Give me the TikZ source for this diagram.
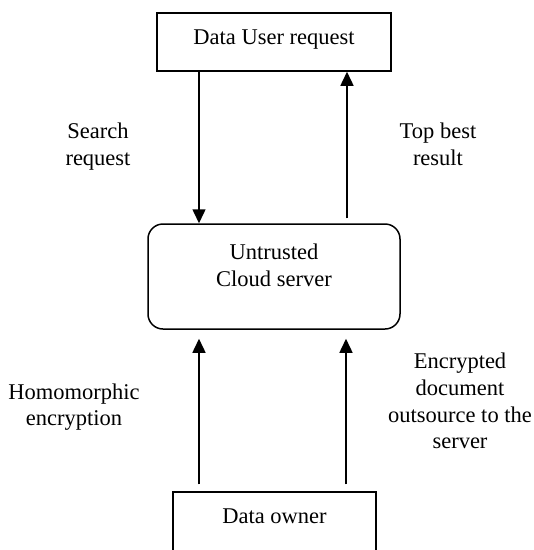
\documentclass[tikz,border=0pt]{standalone}
\usepackage{fontspec}
\setmainfont{Liberation Serif}
\usetikzlibrary{arrows.meta,calc}

\tikzset{
  box/.style={draw, line width=1.5pt, inner sep=0pt},
  txt/.style={inner sep=0pt, anchor=base, font=\fontsize{22.5}{26}\selectfont, align=center},
  arr/.style={line width=1.5pt, -{Triangle[width=13pt,length=14pt]}},
  plain/.style={line width=1.5pt}
}

\begin{document}
\begin{tikzpicture}[x=1pt,y=-1pt]
  \useasboundingbox (0,0) rectangle (534,550);

  % boxes
  \node[box, minimum width=234pt, minimum height=58pt] (user) at (274,42) {};
  \node[box, rounded corners=15pt, minimum width=252pt, minimum height=105pt] (cloud) at (274,276.5) {};
  \node[box, minimum width=203pt, minimum height=62pt] (owner) at (274.5,523) {};

  % box texts
  \node[txt] (usertxt) at (274,44) {Data User request};
  \node[txt] (cloudtxt1) at (274,259) {Untrusted};
  \node[txt] (cloudtxt2) at (274,286) {Cloud server};
  \node[txt] (ownertxt) at (274.5,523) {Data owner};

  % connector end points
  \coordinate (qa) at ($(user.south)+(-75,0)$);
  \coordinate (ra) at ($(cloud.north)+(73,-5)$);
  \coordinate (ha) at ($(owner.north)+(-75.5,-7)$);
  \coordinate (ea) at ($(owner.north)+(71.5,-7)$);

  % connectors
  \draw[arr] (qa) -- (qa |- cloud.north);
  \draw[arr] (ra) -- (ra |- user.south);
  \draw[arr] (ha) -- ($(ha |- cloud.south)+(0,9)$);
  \draw[arr] (ea) -- ($(ea |- cloud.south)+(0,9)$);

  % connector labels
  \node[txt] (lsearch1) at (98,138) {Search};
  \node[txt] (lsearch2) at (98,165) {request};
  \node[txt] (ltop1) at (438,138) {Top best};
  \node[txt] (ltop2) at (438,165) {result};
  \node[txt] (lhomo1) at (74,399) {Homomorphic};
  \node[txt] (lhomo2) at (74,425) {encryption};
  \node[txt] (lenc1) at (460,368) {Encrypted};
  \node[txt] (lenc2) at (460,395) {document};
  \node[txt] (lenc3) at (460,422) {outsource to the};
  \node[txt] (lenc4) at (460,448) {server};
\end{tikzpicture}
\end{document}
